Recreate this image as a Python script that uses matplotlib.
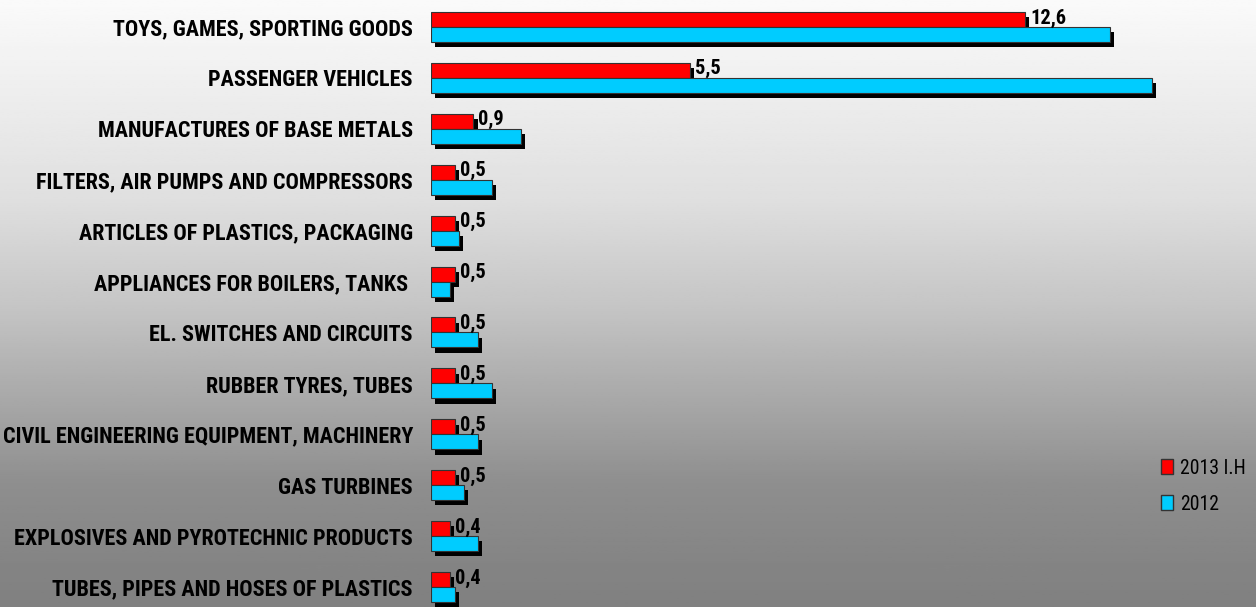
import numpy as np
import matplotlib
matplotlib.use("Agg")
import matplotlib.pyplot as plt
import matplotlib.patheffects as pe
from matplotlib import font_manager
from matplotlib.patches import Patch

# ---------------------------------------------------------
# Data
# ---------------------------------------------------------
categories = [
    "TOYS, GAMES, SPORTING GOODS",
    "PASSENGER VEHICLES",
    "MANUFACTURES OF BASE METALS",
    "FILTERS, AIR PUMPS AND COMPRESSORS",
    "ARTICLES OF PLASTICS, PACKAGING",
    "APPLIANCES FOR BOILERS, TANKS ",
    "EL. SWITCHES AND CIRCUITS",
    "RUBBER TYRES, TUBES",
    "CIVIL ENGINEERING EQUIPMENT, MACHINERY",
    "GAS TURBINES",
    "EXPLOSIVES AND PYROTECHNIC PRODUCTS",
    "TUBES, PIPES AND HOSES OF PLASTICS",
]
values_2013 = [12.6, 5.5, 0.9, 0.5, 0.5, 0.5, 0.5, 0.5, 0.5, 0.5, 0.4, 0.4]
values_2012 = [14.4, 15.3, 1.9, 1.3, 0.6, 0.4, 1.0, 1.3, 1.0, 0.7, 1.0, 0.5]
labels_2013 = ["12,6", "5,5", "0,9", "0,5", "0,5", "0,5", "0,5", "0,5", "0,5", "0,5", "0,4", "0,4"]
series_names = ["2013 I.H", "2012"]

# ---------------------------------------------------------
# Fonts: prefer a narrow sans, fall back to the narrowest available
# ---------------------------------------------------------
names = {f.name for f in font_manager.fontManager.ttflist}
FONT = "Roboto"
for cand in ["Liberation Sans Narrow", "Arial Narrow", "Roboto Condensed",
             "DejaVu Sans Condensed", "Open Sans Condensed", "Roboto"]:
    if cand in names:
        FONT = cand
        break
plt.rcParams["font.family"] = [FONT, "DejaVu Sans"]

W, H = 1256, 607
fig = plt.figure(figsize=(W / 100, H / 100), dpi=100)
renderer = fig.canvas.get_renderer()


def fit_size(s, weight, target_px, ref=20.0):
    t = fig.text(0, 0, s, fontsize=ref, fontweight=weight)
    w = t.get_window_extent(renderer).width
    t.remove()
    return ref * target_px / w


cat_fs = fit_size(categories[0], "bold", 301)
val_fs = fit_size(labels_2013[0], "bold", 36)
leg_fs = fit_size(series_names[0], "normal", 66)

# gradient background
bg = fig.add_axes([0, 0, 1, 1], zorder=-10)
ys = np.linspace(0, 1, 300)
shade = np.interp(ys, [0, 0.33, 0.5, 0.66, 0.8, 0.92, 1.0],
                  [250, 223, 198, 168, 142, 133, 128]) / 255
bg.imshow(np.repeat(shade[:, None], 2, axis=1), cmap="gray", vmin=0, vmax=1,
          aspect="auto", extent=[0, 1, 1, 0])
bg.set_axis_off()

# ---------------------------------------------------------
# Bars
# ---------------------------------------------------------
PX_PER_UNIT = 47.14
x0, x1 = 431, 1240
ax = fig.add_axes([x0 / W, 0, (x1 - x0) / W, 1])
ax.set_facecolor("none")
ax.set_xlim(0, (x1 - x0) / PX_PER_UNIT)
ax.set_ylim(11 + 20 / 50.9, -27 / 50.9)

y = np.arange(len(categories))
bh = 0.295
shadow = [pe.SimplePatchShadow(offset=(3, -3.8), shadow_rgbFace="black", alpha=1.0),
          pe.Normal()]
red = ax.barh(y - bh / 2, values_2013, height=bh, color="#ff0000",
              edgecolor="#333333", linewidth=0.8)
blue = ax.barh(y + bh / 2, values_2012, height=bh, color="#00ccff",
               edgecolor="#333333", linewidth=0.8)
for b in list(red) + list(blue):
    b.set_path_effects(shadow)
for b in red:
    b.set_zorder(2)
for b in blue:
    b.set_zorder(3)

for yi, v, lab in zip(y, values_2013, labels_2013):
    ax.text(v + 5 / PX_PER_UNIT, yi - bh / 2 - 0.03, lab, ha="left", va="center",
            fontsize=val_fs, fontweight="bold", color="black", zorder=4)

ax.set_yticks(y)
ax.set_yticklabels(categories, fontsize=cat_fs, fontweight="bold")
ax.tick_params(axis="y", length=0, pad=13)
ax.set_xticks([])
for s in ax.spines.values():
    s.set_visible(False)

handles = [Patch(facecolor="#ff0000", edgecolor="#333333", label=series_names[0]),
           Patch(facecolor="#00ccff", edgecolor="#333333", label=series_names[1])]
fig.legend(handles=handles, loc="upper left", bbox_to_anchor=(1143 / W, 1 - 441 / H),
           frameon=False, fontsize=leg_fs, handlelength=0.62, handleheight=0.8,
           handletextpad=0.35, labelspacing=0.85)

fig.savefig("out.png", dpi=100)
